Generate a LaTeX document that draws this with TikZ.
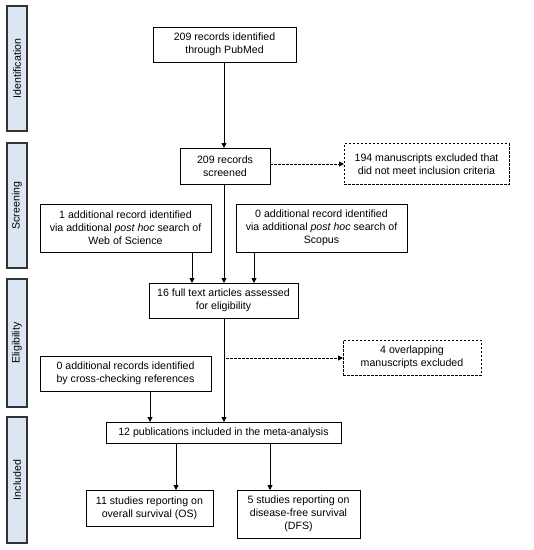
\documentclass[tikz,border=0pt]{standalone}
\usepackage{fontspec}
\setmainfont{Liberation Sans}
\usetikzlibrary{arrows.meta}
\definecolor{phasefill}{HTML}{DCE6F2}
\definecolor{phasedraw}{HTML}{333333}
\begin{document}
\begin{tikzpicture}[x=1pt,y=-1pt,
  font=\fontsize{10.6}{13}\selectfont,
  box/.style={draw=black,line width=0.9pt,fill=white,align=center,inner sep=0pt,outer sep=0pt},
  dbox/.style={box,dashed,dash pattern=on 2.5pt off 1.5pt},
  phase/.style={draw=phasedraw,line width=1.6pt,fill=phasefill,minimum height=20,inner sep=0pt,outer sep=0pt,rotate=90},
  arr/.style={line width=0.9pt,-{Triangle[length=5pt,width=5pt]}},
  darr/.style={arr,dash pattern=on 2.5pt off 1.5pt}]
\useasboundingbox (0,0) rectangle (534,550);
% phase bars
\node[phase,minimum width=125] (pid) at (17,68.5) {Identification};
\node[phase,minimum width=125] (psc) at (17,205.5) {Screening};
\node[phase,minimum width=128] (pel) at (17,343) {Eligibility};
\node[phase,minimum width=126] (pin) at (17,480) {Included};
% boxes
\node[box,minimum width=143,minimum height=35] (b1) at (224.5,44.5) {209 records identified\\through PubMed};
\node[box,minimum width=90,minimum height=36] (b2) at (225,166) {209 records\\screened};
\node[dbox,minimum width=165,minimum height=41] (e1) at (426.5,164) {194 manuscripts excluded that\\did not meet inclusion criteria};
\node[box,minimum width=171,minimum height=48] (wos) at (125.5,228) {1 additional record identified\\via additional \textit{post hoc} search of\\Web of Science};
\node[box,minimum width=171,minimum height=48] (sco) at (321.5,228) {0 additional record identified\\via additional \textit{post hoc} search of\\Scopus};
\node[box,minimum width=149,minimum height=35] (b16) at (223.5,300.5) {16 full text articles assessed\\for eligibility};
\node[dbox,minimum width=138,minimum height=35] (e2) at (412,357.5) {4 overlapping\\manuscripts excluded};
\node[box,minimum width=171,minimum height=35] (cr) at (125.5,373.5) {0 additional records identified\\by cross-checking references};
\node[box,minimum width=235,minimum height=21] (pub) at (223.5,432.5) {12 publications included in the meta-analysis};
\node[box,minimum width=127,minimum height=36] (os) at (149.5,508) {11 studies reporting on\\overall survival (OS)};
\node[box,minimum width=123,minimum height=48] (dfs) at (298.5,514) {5 studies reporting on\\disease-free survival\\(DFS)};
% connectors
\coordinate (tx) at (224,0);
\draw[arr] (b1.south -| tx) -- (b2.north -| tx);
\draw[arr] (b2.south -| tx) -- (b16.north -| tx);
\draw[darr] (b2.east |- e1.west) -- (e1.west);
\coordinate (wx) at (192,0);
\coordinate (sx) at (254,0);
\draw[arr] (wos.south -| wx) -- (b16.north -| wx);
\draw[arr] (sco.south -| sx) -- (b16.north -| sx);
\draw[arr] (b16.south -| tx) -- (pub.north -| tx);
\coordinate (d2) at (226,358);
\draw[darr] (d2) -- (d2 -| e2.west);
\coordinate (cx) at (150,0);
\draw[arr] (cr.south -| cx) -- (pub.north -| cx);
\coordinate (ox) at (176,0);
\coordinate (fx) at (270,0);
\draw[arr] (pub.south -| ox) -- (os.north -| ox);
\draw[arr] (pub.south -| fx) -- (dfs.north -| fx);
\end{tikzpicture}
\end{document}
